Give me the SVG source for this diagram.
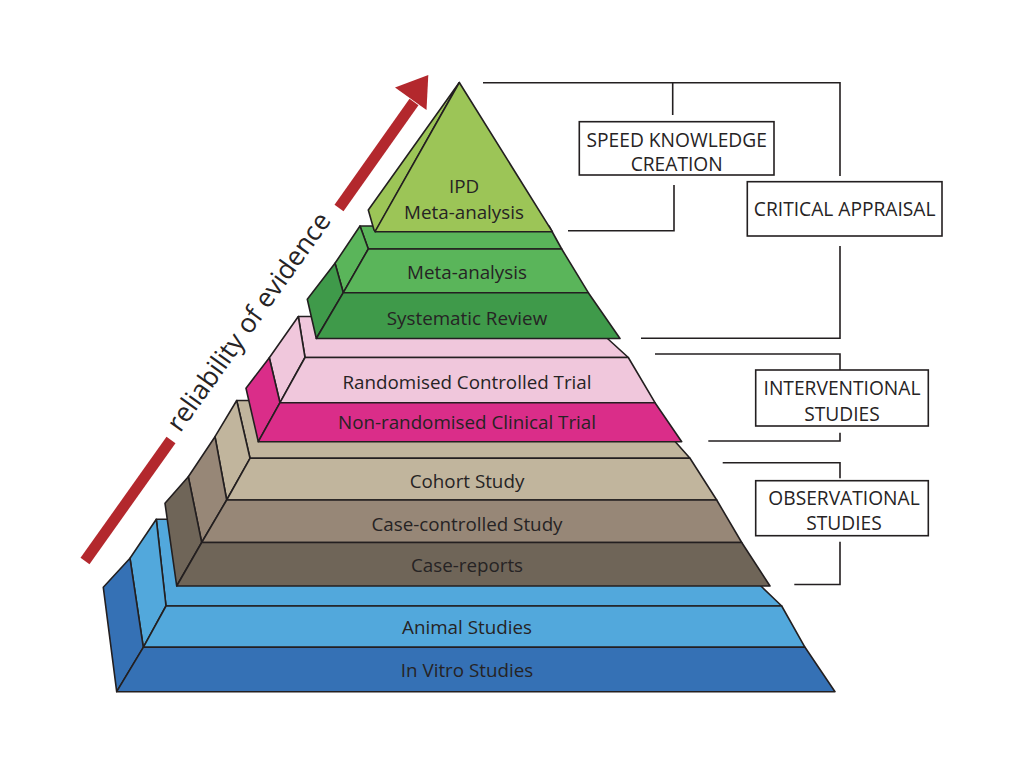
<svg xmlns="http://www.w3.org/2000/svg" width="1024" height="768" viewBox="0 0 1024 768">
<defs>
<style>
.f{stroke:#231f20;stroke-width:1.6;stroke-linejoin:round}
.t{font-family:"Open Sans","Noto Sans","Liberation Sans",sans-serif;font-size:18.8px;fill:#262324;text-anchor:middle}
.b{font-size:19.2px}
.box{fill:#fff;stroke:#231f20;stroke-width:1.6}
.ln{fill:none;stroke:#231f20;stroke-width:1.6}
.ipd{fill:#9cc557}.meta{fill:#5ab55a}.sr{fill:#3f9a4a}
.rct{fill:#f0c7dc}.nrct{fill:#da2d89}
.coh{fill:#c1b59d}.cc{fill:#978777}.cr{fill:#6f6558}
.ani{fill:#52a8dc}.iv{fill:#3571b5}
</style>
</defs>
<rect width="1024" height="768" fill="#fff"/>

<g id="blue-tier">
<polygon class="f ani" points="156.3,519.3 691.6,519.3 781.7,606 166,606"/>
<polygon class="f ani" points="130,558.3 156.3,519.3 166,606 143.3,647.3"/>
<polygon class="f iv" points="103.3,587.3 130,558.3 143.3,647.3 116.7,691.7"/>
<polygon class="f ani" points="166,606 781.7,606 805,647.3 143.3,647.3"/>
<polygon class="f iv" points="143.3,647.3 805,647.3 835,691.7 116.7,691.7"/>
<text class="t" x="467" y="634">Animal Studies</text>
<text class="t" x="467" y="677">In Vitro Studies</text>
</g>

<g id="brown-tier">
<polygon class="f coh" points="236.7,400.5 638.6,400.5 690,458.3 250,458.3"/>
<polygon class="f coh" points="236.7,400.5 250,458.3 226.7,500 215,436.7"/>
<polygon class="f cc" points="215,436.7 226.7,500 201.7,542.5 188.3,476.7"/>
<polygon class="f cr" points="188.3,476.7 201.7,542.5 176.7,586 165,503.3"/>
<polygon class="f coh" points="250,458.3 690,458.3 716.7,500 226.7,500"/>
<polygon class="f cc" points="226.7,500 716.7,500 741.7,542.5 201.7,542.5"/>
<polygon class="f cr" points="201.7,542.5 741.7,542.5 770,586 176.7,586"/>
<text class="t" x="467" y="487.5">Cohort Study</text>
<text class="t" x="467" y="531">Case-controlled Study</text>
<text class="t" x="467" y="571.5">Case-reports</text>
</g>

<g id="pink-tier">
<polygon class="f rct" points="298.3,316.5 583.4,316.5 628.3,357.5 305,357.5"/>
<polygon class="f rct" points="298.3,316.5 305,357.5 280,402.7 269.3,357.7"/>
<polygon class="f nrct" points="269.3,357.7 280,402.7 258.3,441.7 246,388.3"/>
<polygon class="f rct" points="305,357.5 628.3,357.5 655,402.7 280,402.7"/>
<polygon class="f nrct" points="280,402.7 655,402.7 681.7,441.7 258.3,441.7"/>
<text class="t" x="467" y="388.5">Randomised Controlled Trial</text>
<text class="t" x="467" y="428.5">Non-randomised Clinical Trial</text>
</g>

<g id="green-tier">
<polygon class="f meta" points="360,226 549,226 561.7,249 368.3,249"/>
<polygon class="f meta" points="360,226 368.3,249 343.3,292.7 335,263.3"/>
<polygon class="f sr" points="335,263.3 343.3,292.7 316.3,338.5 307.3,299.3"/>
<polygon class="f meta" points="368.3,249 561.7,249 588.3,292.7 343.3,292.7"/>
<polygon class="f sr" points="343.3,292.7 588.3,292.7 620,338.5 316.3,338.5"/>
<text class="t" x="467" y="279">Meta-analysis</text>
<text class="t" x="467" y="324.5">Systematic Review</text>
</g>

<g id="ipd-tier">
<polygon class="f ipd" points="459.3,82.5 368.3,210 374,230 375.5,231.7"/>
<polygon class="f ipd" points="459.3,82.5 552.3,231.7 375,231.7"/>
<text class="t" x="464" y="192.5">IPD</text>
<text class="t" x="464" y="218.5">Meta-analysis</text>
</g>

<g id="reliability-arrow">
<line x1="85" y1="561" x2="171" y2="440" stroke="#b3282d" stroke-width="11"/>
<line x1="339" y1="208" x2="414" y2="102" stroke="#b3282d" stroke-width="11"/>
<polygon points="428.3,75 395,87.5 426.5,110" fill="#b3282d"/>
<text class="t" transform="translate(256,327) rotate(-54.5)" style="font-size:26.5px">reliability of evidence</text>
</g>

<g id="connectors">
<polyline class="ln" points="483,82.7 840,82.7 840,176"/>
<line class="ln" x1="672.7" y1="82.7" x2="672.7" y2="115"/>
<polyline class="ln" points="674,185 674,230.7 568,230.7"/>
<polyline class="ln" points="840,246 840,338.3 641,338.3"/>
<polyline class="ln" points="655,354 840,354 840,370"/>
<polyline class="ln" points="840,432.7 840,441 708.3,441"/>
<polyline class="ln" points="722.7,462.7 840,462.7 840,478.3"/>
<polyline class="ln" points="840,541.7 840,584.5 794.3,584.5"/>
</g>

<g id="speed-knowledge-creation">
<rect class="box" x="579.3" y="121.7" width="194.7" height="53.3"/>
<text class="t b" x="676.7" y="146.5">SPEED KNOWLEDGE</text>
<text class="t b" x="676.7" y="171">CREATION</text>
</g>
<g id="critical-appraisal">
<rect class="box" x="747.3" y="181.7" width="194.7" height="54.3"/>
<text class="t b" x="844.7" y="216">CRITICAL APPRAISAL</text>
</g>
<g id="interventional-studies">
<rect class="box" x="755.7" y="370" width="172.6" height="56"/>
<text class="t b" x="842" y="395">INTERVENTIONAL</text>
<text class="t b" x="842" y="420.5">STUDIES</text>
</g>
<g id="observational-studies">
<rect class="box" x="755.7" y="480.7" width="172.6" height="55"/>
<text class="t b" x="844" y="505">OBSERVATIONAL</text>
<text class="t b" x="844" y="530">STUDIES</text>
</g>
</svg>
